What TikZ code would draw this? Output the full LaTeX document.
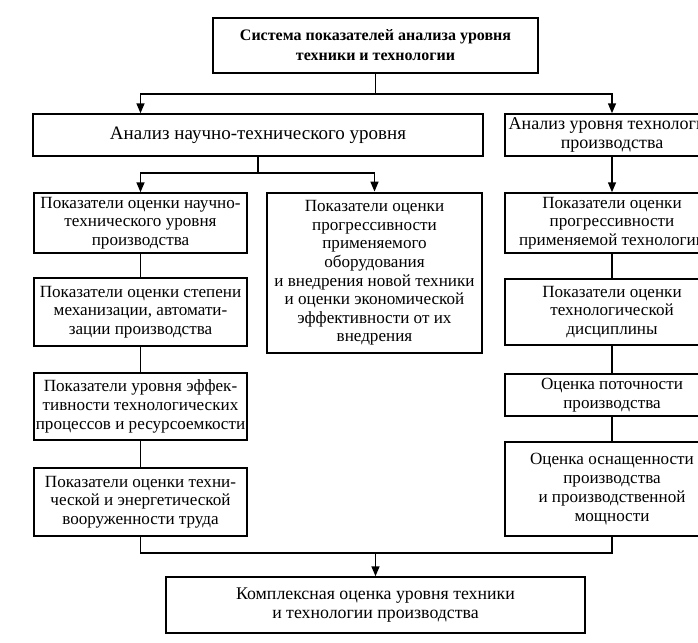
\documentclass[tikz,border=0pt]{standalone}
\usepackage{fontspec}
\setmainfont{Liberation Serif}
\usetikzlibrary{arrows.meta}

\tikzset{
	blk/.style={draw, line width=1.5pt, align=center, inner sep=1pt,
		font=\fontsize{17.1}{18.6}\selectfont},
	arr/.style={-{Triangle[length=10pt,width=8pt]}, line width=1.5pt},
	lnk/.style={line width=1.5pt}
}

\begin{document}
\begin{tikzpicture}[x=1pt, y=-1pt]
		\useasboundingbox (0,0) rectangle (698,642);
		\clip (0,0) rectangle (698,642);
		\node[blk, minimum width=325pt, minimum height=55pt, font=\fontsize{16}{20}\selectfont\bfseries] (sys) at (375.5,45.5)
			{Система показателей анализа уровня\\техники и технологии};
		\node[blk, minimum width=450pt, minimum height=42pt, font=\fontsize{19}{20}\selectfont] (nt) at (258,135)
			{Анализ научно-технического уровня};
		\node[blk, minimum width=214pt, minimum height=42pt, font=\fontsize{18}{19.5}\selectfont] (tp) at (612,135)
			{Анализ уровня технологии\\производства};
		% left column
		\node[blk, minimum width=213pt, minimum height=60pt] (l1) at (140.5,223)
			{Показатели оценки научно-\\технического уровня\\производства};
		\node[blk, minimum width=213pt, minimum height=68pt] (l2) at (140.5,312)
			{Показатели оценки степени\\механизации, автомати-\\зации производства};
		\node[blk, minimum width=213pt, minimum height=67pt] (l3) at (140.5,406.5)
			{Показатели уровня эффек-\\тивности технологических\\процессов и ресурсоемкости};
		\node[blk, minimum width=213pt, minimum height=68pt] (l4) at (140.5,502)
			{Показатели оценки техни-\\ческой и энергетической\\вооруженности труда};
		% middle
		\node[blk, line width=2.8pt, minimum width=215pt, minimum height=160pt] (md) at (374.5,273)
			{Показатели оценки\\прогрессивности\\применяемого\\оборудования\\и внедрения новой техники\\и оценки экономической\\эффективности от их\\внедрения};
		% right column
		\node[blk, minimum width=214pt, minimum height=60pt] (r1) at (612,223)
			{Показатели оценки\\прогрессивности\\применяемой технологии};
		\node[blk, minimum width=214pt, minimum height=66pt] (r2) at (612,312)
			{Показатели оценки\\технологической\\дисциплины};
		\node[blk, minimum width=214pt, minimum height=42pt] (r3) at (612,395)
			{Оценка поточности\\производства};
		\node[blk, minimum width=214pt, minimum height=94pt, font=\fontsize{17.1}{19}\selectfont] (r4) at (612,489)
			{Оценка оснащенности\\производства\\и производственной\\мощности};
		\node[blk, minimum width=419pt, minimum height=56pt, font=\fontsize{17.8}{19.5}\selectfont] (res) at (375.5,605)
			{Комплексная оценка уровня техники\\и технологии производства};
		% connectors
		\coordinate (j1) at (375.5,94);
		\coordinate (j2) at (258,173);
		\coordinate (j3) at (375.5,553);
		\draw[lnk] (sys) -- (j1);
		\draw[arr] (j1) -| (l1 |- nt.north);
		\draw[arr] (j1) -| (tp.north);
		\draw[lnk] (nt) -- (j2);
		\draw[arr] (j2) -| (l1.north);
		\draw[arr] (j2) -| (md.north);
		\draw[arr] (tp) -- (r1);
		\draw[lnk] (l1) -- (l2) (l2) -- (l3) (l3) -- (l4);
		\draw[lnk] (r1) -- (r2) (r2) -- (r3) (r3) -- (r4);
		\draw[lnk] (l4.south) |- (j3) -| (r4.south);
		\draw[arr] (j3) -- (res);
	\end{tikzpicture}
\end{document}
